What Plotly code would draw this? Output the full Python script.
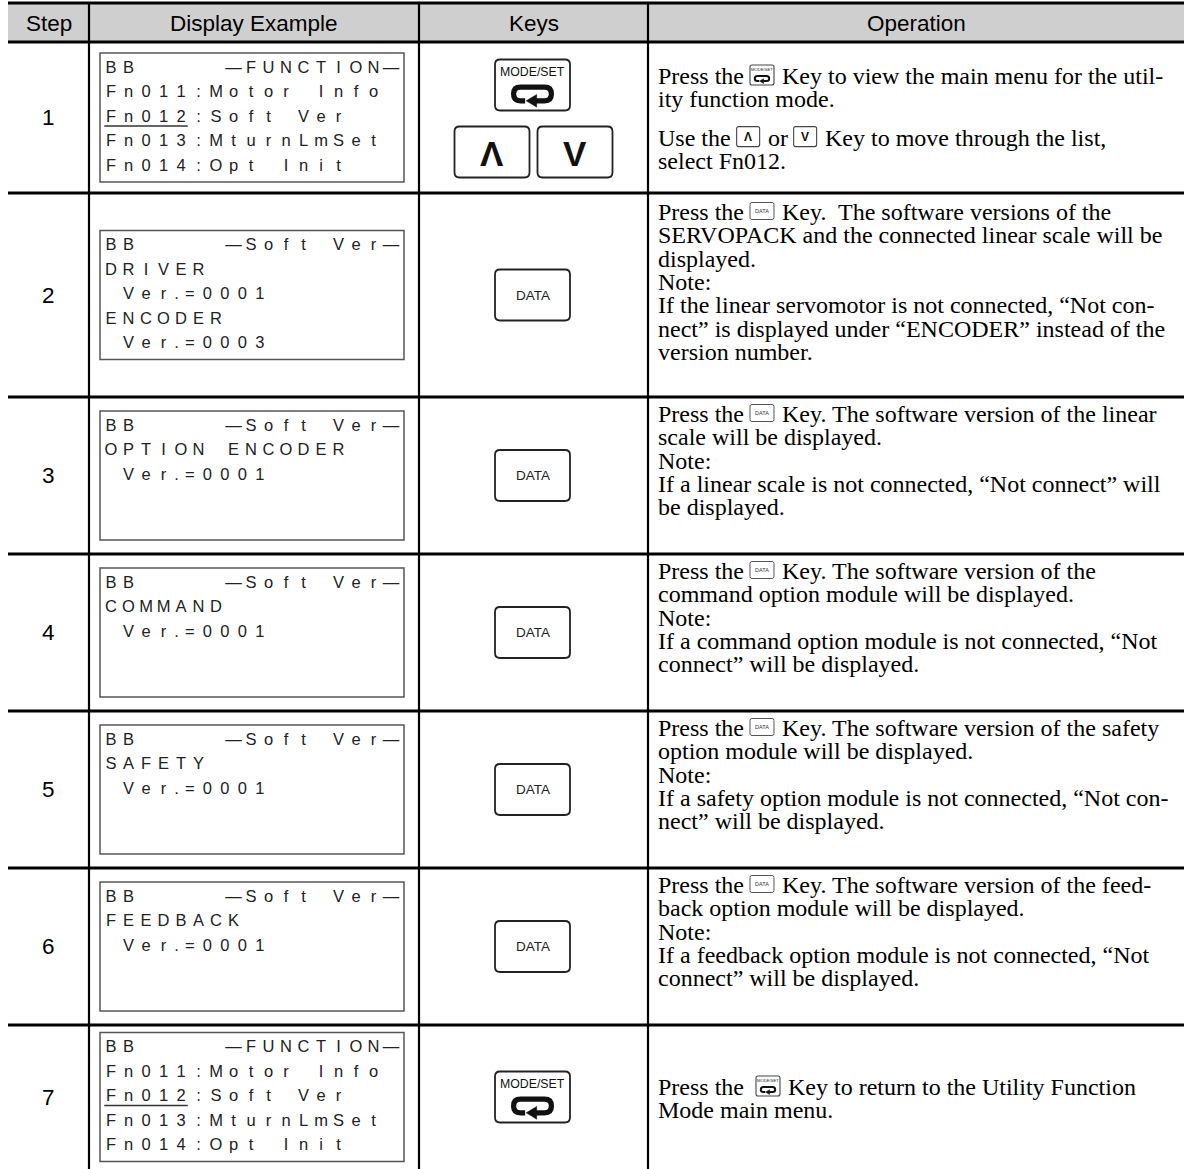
import re
import plotly.graph_objects as go

W, H = 1184, 1169

# ---------------- data ----------------
headers = ["Step", "Display Example", "Keys", "Operation"]
steps = ["1", "2", "3", "4", "5", "6", "7"]

display_lines = [
    ["BB     —FUNCTION—", "Fn011:Motor Info", "Fn012:Soft Ver", "Fn013:MturnLmSet", "Fn014:Opt Init"],
    ["BB     —Soft Ver—", "DRIVER", " Ver.=0001", "ENCODER", " Ver.=0003"],
    ["BB     —Soft Ver—", "OPTION ENCODER", " Ver.=0001"],
    ["BB     —Soft Ver—", "COMMAND", " Ver.=0001"],
    ["BB     —Soft Ver—", "SAFETY", " Ver.=0001"],
    ["BB     —Soft Ver—", "FEEDBACK", " Ver.=0001"],
    ["BB     —FUNCTION—", "Fn011:Motor Info", "Fn012:Soft Ver", "Fn013:MturnLmSet", "Fn014:Opt Init"],
]
# (line index, number of underlined characters) for the cursor underline
display_cursor = [(2, 5), None, None, None, None, None, (2, 5)]

keys = [["MODESET", "UP", "DOWN"], ["DATA"], ["DATA"], ["DATA"], ["DATA"], ["DATA"], ["MODESET"]]

operations = [
    ["Press the {MODESET} Key to view the main menu for the util-",
     "ity function mode.",
     "",
     "Use the {UP} or {DOWN} Key to move through the list,",
     "select Fn012."],
    ["Press the {DATA} Key.  The software versions of the",
     "SERVOPACK and the connected linear scale will be",
     "displayed.",
     "Note:",
     "If the linear servomotor is not connected, “Not con-",
     "nect” is displayed under “ENCODER” instead of the",
     "version number."],
    ["Press the {DATA} Key. The software version of the linear",
     "scale will be displayed.",
     "Note:",
     "If a linear scale is not connected, “Not connect” will",
     "be displayed."],
    ["Press the {DATA} Key. The software version of the",
     "command option module will be displayed.",
     "Note:",
     "If a command option module is not connected, “Not",
     "connect” will be displayed."],
    ["Press the {DATA} Key. The software version of the safety",
     "option module will be displayed.",
     "Note:",
     "If a safety option module is not connected, “Not con-",
     "nect” will be displayed."],
    ["Press the {DATA} Key. The software version of the feed-",
     "back option module will be displayed.",
     "Note:",
     "If a feedback option module is not connected, “Not",
     "connect” will be displayed."],
    ["Press the  {MODESET} Key to return to the Utility Function",
     "Mode main menu."],
]

# ---------------- layout constants ----------------
X_LEFT = 8
TOP = 3
COL_EDGES = [89, 419, 648]
ROW_EDGES = [42, 193, 397, 554, 711, 868, 1025, 1169]
STEP_X = 48
KEY_CX = (COL_EDGES[1] + COL_EDGES[2]) / 2

SANS = "Liberation Sans, Arial, sans-serif"
SERIF = "Liberation Serif, Times New Roman, serif"

BOX_X0, BOX_X1, BOX_H = 100, 404, 129
LCD_X0, PITCH = 102.25, 17.5
LCD_LINE0, LCD_LPITCH = 15.5, 24.5
LCD_FS = 16.5

OP_X, OP_FS = 657, 24
OP_FIRST = [76, 212, 414, 571, 728, 885, 1087]
OP_PITCH, PARA_GAP = 23.3, 15

# Times (Liberation Serif) advance widths, 1/1000 em
TW = {' ': 250, 'P': 556, 'r': 333, 'e': 444, 's': 389, 't': 278, 'h': 500,
      'U': 722, 'o': 500}

shapes = []
annotations = []

def line(x0, y0, x1, y1, w=2.5, c="black"):
    shapes.append(dict(type="line", xref="x", yref="y", x0=x0, y0=y0, x1=x1, y1=y1,
                       line=dict(color=c, width=w)))

def rrect_path(x0, y0, x1, y1, r):
    return (f"M{x0+r},{y0} L{x1-r},{y0} Q{x1},{y0} {x1},{y0+r} L{x1},{y1-r} "
            f"Q{x1},{y1} {x1-r},{y1} L{x0+r},{y1} Q{x0},{y1} {x0},{y1-r} "
            f"L{x0},{y0+r} Q{x0},{y0} {x0+r},{y0} Z")

def rrect(x0, y0, x1, y1, r, lw, c="#222222"):
    shapes.append(dict(type="path", xref="x", yref="y", path=rrect_path(x0, y0, x1, y1, r),
                       line=dict(color=c, width=lw), fillcolor="white"))

def text(x, y, s, size, font=SANS, color="black", anchor="center", bold=False):
    if bold:
        s = f"<b>{s}</b>"
    annotations.append(dict(x=x, y=y, xref="x", yref="y", text=s, showarrow=False,
                            xanchor=anchor, yanchor="middle", borderpad=0,
                            font=dict(family=font, size=size, color=color)))

def return_symbol(sx, sy, s, c="#111111"):
    a, b = 18 * s, 6.5 * s
    r = b
    p = (f"M{sx-7*s},{sy+b} L{sx-a+r},{sy+b} Q{sx-a},{sy+b} {sx-a},{sy} "
         f"Q{sx-a},{sy-b} {sx-a+r},{sy-b} L{sx+a-r},{sy-b} Q{sx+a},{sy-b} {sx+a},{sy} "
         f"Q{sx+a},{sy+b} {sx+a-r},{sy+b} L{sx+3*s},{sy+b}")
    shapes.append(dict(type="path", xref="x", yref="y", path=p,
                       line=dict(color=c, width=max(1.2, 5 * s))))
    tri = (f"M{sx-6*s},{sy+b} L{sx+4*s},{sy+b-6*s} L{sx+4*s},{sy+b+6*s} Z")
    shapes.append(dict(type="path", xref="x", yref="y", path=tri,
                       line=dict(color=c, width=0.5), fillcolor=c))

def key(kind, cx, cy, mini=False):
    if kind == "MODESET":
        if mini:
            w, h = 24, 20
            rrect(cx - w/2, cy - h/2, cx + w/2, cy + h/2, 2, 1.1, "#444444")
            text(cx, cy - 5.5, "MODE/SET", 4.2, SANS, "#222222")
            return_symbol(cx, cy + 3.5, 0.4)
        else:
            w, h = 75, 51
            rrect(cx - w/2, cy - h/2, cx + w/2, cy + h/2, 5, 1.8)
            text(cx, cy - 13, "MODE/SET", 12.3, SANS, "#111111")
            return_symbol(cx, cy + 9, 1.05)
    elif kind == "DATA":
        if mini:
            w, h = 24, 17
            rrect(cx - w/2, cy - h/2, cx + w/2, cy + h/2, 2, 1.0, "#555555")
            text(cx, cy, "DATA", 5.5, SANS, "#333333")
        else:
            w, h = 75, 51
            rrect(cx - w/2, cy - h/2, cx + w/2, cy + h/2, 5, 1.8)
            text(cx, cy, "DATA", 13.5, SANS, "#222222")
    elif kind in ("UP", "DOWN"):
        g = "Λ" if kind == "UP" else "V"
        if mini:
            w, h = 23, 20
            rrect(cx - w/2, cy - h/2, cx + w/2, cy + h/2, 2, 1.1, "#444444")
            text(cx, cy + 0.5, g, 12, SANS, "#111111", bold=True)
        else:
            w, h = 75, 51
            rrect(cx - w/2, cy - h/2, cx + w/2, cy + h/2, 5, 1.8)
            text(cx, cy + 1, g, 35, SANS, "#111111", bold=True)
    return w

MINI_W = {"MODESET": 24, "DATA": 24, "UP": 23, "DOWN": 23}

# ---------------- header ----------------
shapes.append(dict(type="rect", xref="x", yref="y", x0=X_LEFT, x1=W, y0=TOP, y1=ROW_EDGES[0],
                   fillcolor="#cfcfcf", line=dict(width=0), layer="below"))
hx = [(X_LEFT + COL_EDGES[0]) / 2, (COL_EDGES[0] + COL_EDGES[1]) / 2, KEY_CX, (COL_EDGES[2] + W) / 2]
for x, s in zip(hx, headers):
    text(x, (TOP + ROW_EDGES[0]) / 2 + 0.5, s, 22.5, SANS)

# ---------------- grid ----------------
for y in [TOP] + ROW_EDGES[:-1]:
    line(X_LEFT, y, W, y, 2.8)
for x in COL_EDGES:
    line(x, TOP, x, H, 2.2)

# ---------------- rows ----------------
lcd_x, lcd_y, lcd_t = [], [], []
for r in range(len(steps)):
    y0, y1 = ROW_EDGES[r], ROW_EDGES[r + 1]
    cy = (y0 + y1) / 2
    text(STEP_X, cy, steps[r], 22.5, SANS)

    # display box
    btop = cy - BOX_H / 2
    shapes.append(dict(type="rect", xref="x", yref="y", x0=BOX_X0, x1=BOX_X1, y0=btop, y1=btop + BOX_H,
                       line=dict(color="#555555", width=1.5)))
    for li, s in enumerate(display_lines[r]):
        ly = btop + LCD_LINE0 + li * LCD_LPITCH
        pos = 0.0
        for ch in s:
            adv = 0.5 if ch == "." else 1.0
            if ch != " ":
                lcd_x.append(LCD_X0 + (pos + adv / 2) * PITCH)
                lcd_y.append(ly)
                lcd_t.append(ch)
            pos += adv
    if display_cursor[r] is not None:
        li, n = display_cursor[r]
        uy = btop + LCD_LINE0 + li * LCD_LPITCH + 8.5
        line(LCD_X0 + 2, uy, LCD_X0 + n * PITCH - 2, uy, 1.3, "#333333")

    # keys
    kk = keys[r]
    if len(kk) == 3:
        key(kk[0], KEY_CX - 1, cy - 32.5)
        key(kk[1], KEY_CX - 41.5, cy + 34.5)
        key(kk[2], KEY_CX + 41.5, cy + 34.5)
    else:
        key(kk[0], KEY_CX - 1, cy)

    # operation text
    y = OP_FIRST[r]
    for s in operations[r]:
        if s == "":
            y += PARA_GAP
            continue
        x = OP_X
        for part in re.split(r"(\{[A-Z]+\})", s):
            if not part:
                continue
            if part.startswith("{"):
                k = part[1:-1]
                w = MINI_W[k]
                key(k, x + 1 + w / 2, y - 1, mini=True)
                x += w + 2
            else:
                lead = len(part) - len(part.lstrip(" "))
                trail = len(part) - len(part.rstrip(" "))
                core = part.strip(" ")
                x += lead * 0.25 * OP_FS
                if core:
                    text(x, y, core, OP_FS, SERIF, anchor="left")
                    x += sum(TW.get(c, 480) for c in core) / 1000 * OP_FS
                x += trail * 0.25 * OP_FS
        y += OP_PITCH

fig = go.Figure()
fig.add_trace(go.Scatter(x=lcd_x, y=lcd_y, text=lcd_t, mode="text", textposition="middle center",
                         textfont=dict(family=SANS, size=LCD_FS, color="#222222"),
                         hoverinfo="skip", showlegend=False, cliponaxis=False))

fig.update_layout(
    width=W, height=H, margin=dict(l=0, r=0, t=0, b=0, pad=0),
    paper_bgcolor="white", plot_bgcolor="white",
    xaxis=dict(range=[0, W], visible=False, fixedrange=True),
    yaxis=dict(range=[H, 0], visible=False, fixedrange=True),
    shapes=shapes, annotations=annotations, showlegend=False,
)
fig.write_html("out.html", config={"displayModeBar": False},
               post_script="document.body.style.margin='0px';")
